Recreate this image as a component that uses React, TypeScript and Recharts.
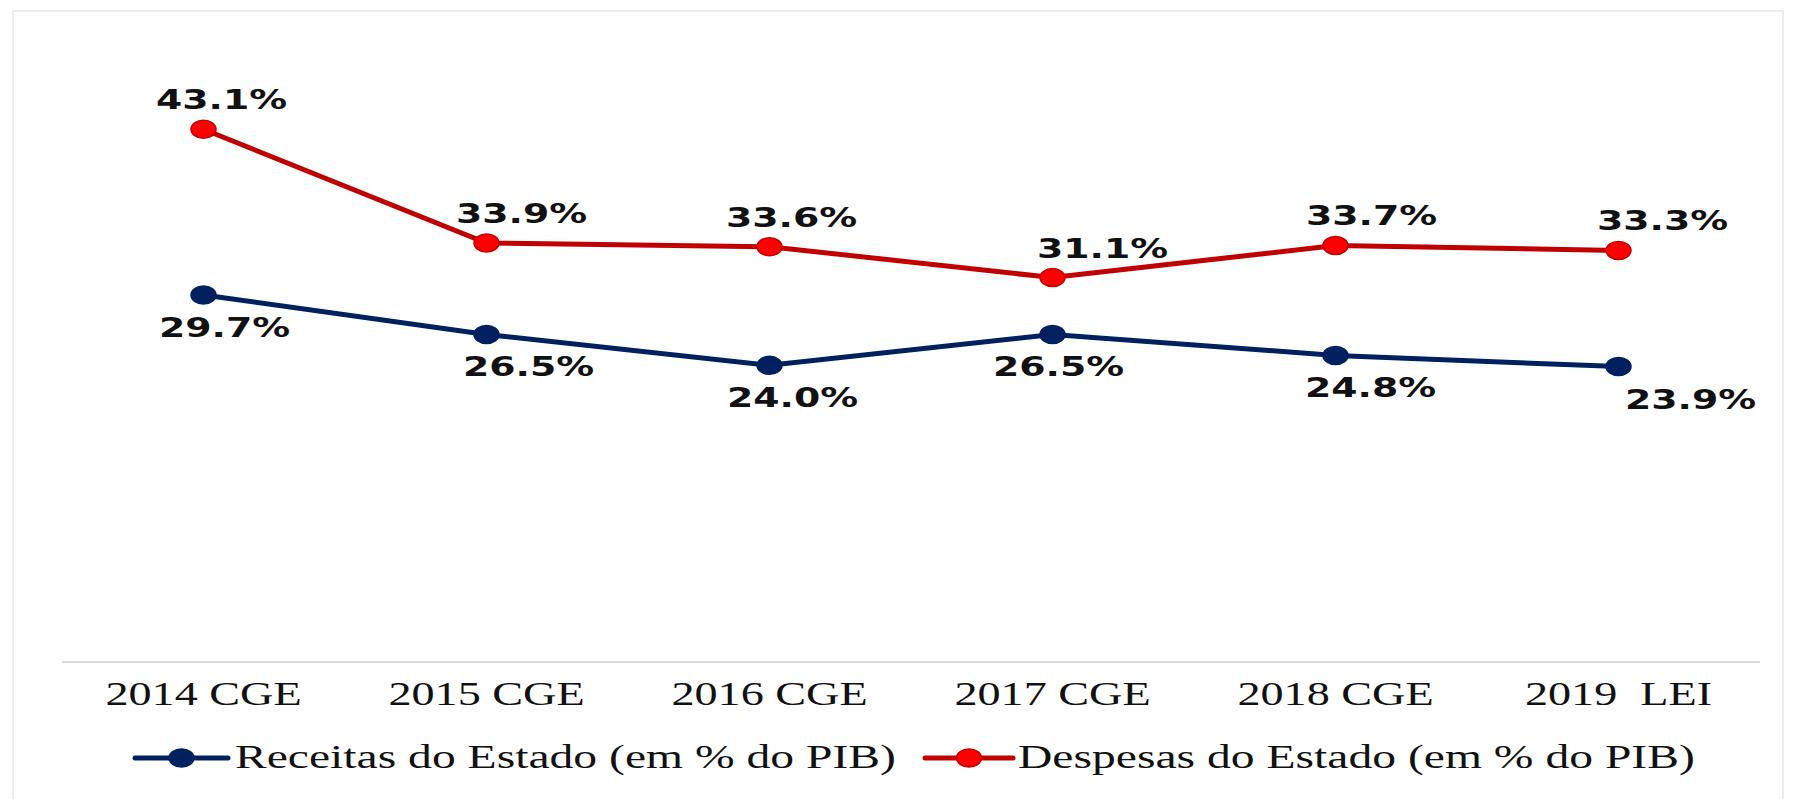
import React from 'react';
import { LineChart, Line, XAxis, YAxis, Legend } from 'recharts';

const categories = ['2014 CGE', '2015 CGE', '2016 CGE', '2017 CGE', '2018 CGE', '2019  LEI'];
const receitas = [29.7, 26.5, 24.0, 26.5, 24.8, 23.9];
const despesas = [43.1, 33.9, 33.6, 31.1, 33.7, 33.3];
const seriesNames = ['Receitas do Estado (em % do PIB)', 'Despesas do Estado (em % do PIB)'];

const data = categories.map((c, i) => ({ name: c, receitas: receitas[i], despesas: despesas[i] }));

const SX = 1.4;
const BLUE = '#002060';
const RED = '#c00000';
const RED_FILL = '#ff0000';

// label nudges (px) to mimic the original placement
const receitasNudge = [21, 42, 23, 6, 35, 72];
const despesasNudge = [18, 35, 22, 50, 36, 44];

const makeLabel = (nudge: number[], dy: number) => (props: any) => {
  const { x, y, value, index } = props;
  return (
    <g transform={`translate(${x + nudge[index]},${y + dy}) scale(${SX},1)`}>
      <text
        textAnchor="middle"
        fontFamily="DejaVu Sans"
        fontWeight="bold"
        fontSize={27}
        fill="#111"
      >
        {`${Number(value).toFixed(1)}%`}
      </text>
    </g>
  );
};

const makeDot = (fill: string, stroke: string) => (props: any) => {
  const { cx, cy, index } = props;
  return <ellipse key={`d${index}`} cx={cx} cy={cy} rx={12.5} ry={9} fill={fill} stroke={stroke} strokeWidth={1.5} />;
};

const Tick = (props: any) => {
  const { x, y, payload } = props;
  return (
    <g transform={`translate(${x},${y + 43}) scale(${SX},1)`}>
      <text
        textAnchor="middle"
        fontFamily="Liberation Serif"
        fontSize={33}
        fill="#111"
        style={{ whiteSpace: 'pre' }}
      >
        {payload.value}
      </text>
    </g>
  );
};

const LegendContent = () => {
  const items = [
    { name: seriesNames[0], color: BLUE, fill: BLUE, x1: 135, x2: 228, tx: 235 },
    { name: seriesNames[1], color: RED, fill: RED_FILL, x1: 925, x2: 1013, tx: 1018 },
  ];
  return (
    <svg width={1793} height={50} style={{ display: 'block' }}>
      {items.map((it) => (
        <g key={it.name}>
          <line x1={it.x1} x2={it.x2} y1={23} y2={23} stroke={it.color} strokeWidth={5} strokeLinecap="round" />
          <ellipse cx={(it.x1 + it.x2) / 2} cy={23} rx={12.5} ry={9} fill={it.fill} stroke={it.color} strokeWidth={1.5} />
          <g transform={`translate(${it.tx},${33}) scale(${SX},1)`}>
            <text fontFamily="Liberation Serif" fontSize={34} fill="#111" style={{ whiteSpace: 'pre' }}>
              {it.name}
            </text>
          </g>
        </g>
      ))}
    </svg>
  );
};

export default function App() {
  return (
    <div style={{ position: 'absolute', left: 0, top: 0, width: 1793, height: 799, background: '#fff', overflow: 'hidden' }}>
      <div
        style={{
          position: 'absolute',
          left: 12,
          top: 10,
          width: 1772,
          height: 800,
          border: '2px solid #ececec',
          boxSizing: 'border-box',
        }}
      />
      <div style={{ position: 'absolute', left: 0, top: 0 }}>
        <LineChart width={1793} height={799} data={data} margin={{ top: 44, right: 33, bottom: 27, left: 62 }}>
          <XAxis
            dataKey="name"
            scale="band"
            height={60}
            axisLine={{ stroke: '#d9d9d9', strokeWidth: 2 }}
            tickLine={false}
            tickSize={0}
            tickMargin={0}
            tick={<Tick />}
            interval={0}
          />
          <YAxis hide domain={[0, 50]} />
          <Legend verticalAlign="bottom" content={<LegendContent />} wrapperStyle={{ left: 0, top: 735, width: 1793, height: 50 }} />
          <Line
            type="linear"
            dataKey="receitas"
            stroke={BLUE}
            strokeWidth={5}
            dot={makeDot(BLUE, BLUE)}
            activeDot={false}
            label={makeLabel(receitasNudge, 42)}
            isAnimationActive={false}
          />
          <Line
            type="linear"
            dataKey="despesas"
            stroke={RED}
            strokeWidth={5}
            dot={makeDot(RED_FILL, RED)}
            activeDot={false}
            label={makeLabel(despesasNudge, -20)}
            isAnimationActive={false}
          />
        </LineChart>
      </div>
    </div>
  );
}
